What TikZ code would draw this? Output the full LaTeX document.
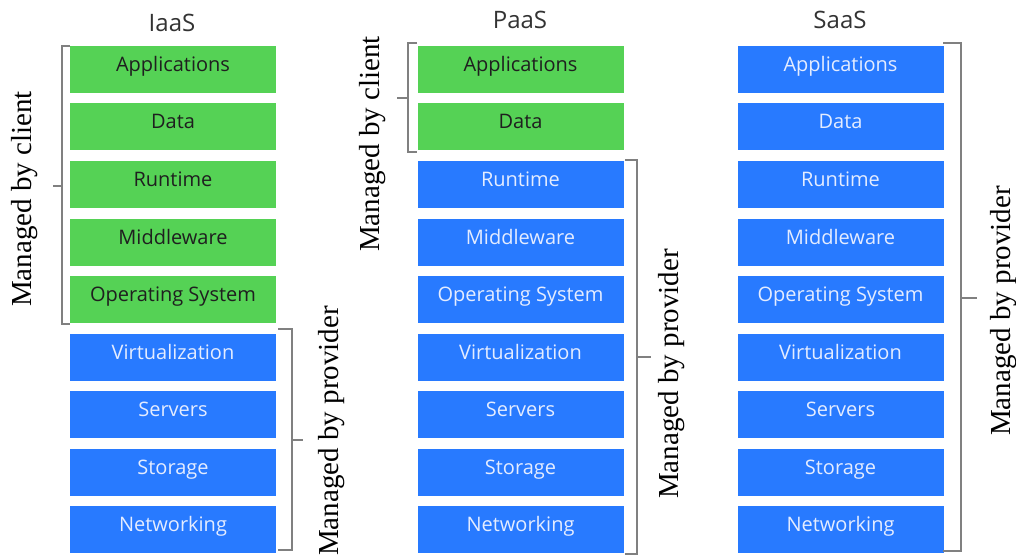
\documentclass[tikz,border=0pt]{standalone}
\usepackage{fontspec}
\setmainfont{Liberation Serif}
\newfontfamily\boxfont{Open Sans}
\definecolor{cgreen}{RGB}{85,210,85}
\definecolor{cblue}{RGB}{40,122,255}
\definecolor{brk}{RGB}{128,128,128}
\definecolor{ltxt}{RGB}{228,236,255}
\begin{document}
\begin{tikzpicture}[x=1pt,y=-1pt,
  layer/.style={minimum width=206pt, minimum height=47pt, inner sep=0pt,
    font=\boxfont\fontsize{20}{24}\selectfont, text height=10pt, text depth=6pt},
  client/.style={layer, fill=cgreen, text=black!88},
  prov/.style={layer, fill=cblue, text=ltxt},
  title/.style={font=\boxfont\fontsize{24}{28}\selectfont, text=black!80, anchor=base, inner sep=0pt},
  brace/.style={draw=brk, line width=2pt},
  mlabel/.style={rotate=90, font=\fontsize{29}{32}\selectfont, text=black, inner sep=0pt}]
\useasboundingbox[fill=white] (0,0) rectangle (1016,556);

% IaaS
\foreach \t [count=\i] in {Applications,Data,Runtime,Middleware,Operating System,Virtualization,Servers,Storage,Networking}{
  \pgfmathsetmacro\yy{69.5+57.5*(\i-1)}
  \ifnum\i<6 \tikzset{cur/.style={client}}\else\tikzset{cur/.style={prov}}\fi
  \node[cur] (i\i) at (173,\yy) {\t};
}
% PaaS
\foreach \t [count=\i] in {Applications,Data,Runtime,Middleware,Operating System,Virtualization,Servers,Storage,Networking}{
  \pgfmathsetmacro\yy{69.5+57.5*(\i-1)}
  \ifnum\i<3 \tikzset{cur/.style={client}}\else\tikzset{cur/.style={prov}}\fi
  \node[cur] (p\i) at (520.5,\yy) {\t};
}
% SaaS
\foreach \t [count=\i] in {Applications,Data,Runtime,Middleware,Operating System,Virtualization,Servers,Storage,Networking}{
  \pgfmathsetmacro\yy{69.5+57.5*(\i-1)}
  \node[prov] (s\i) at (840.5,\yy) {\t};
}

\node[title] (ti) at (172,31.5) {IaaS};
\node[title] (tp) at (520,28.5) {PaaS};
\node[title] (ts) at (840,28.5) {SaaS};

% IaaS brackets
\draw[brace] (70,46) -- (62,46) -- (62,324) -- (70,324);
\draw[brace] (62,186) -- (53,186);
\node[mlabel] (lic) at (25,199) {Managed by client};
\draw[brace] (278,329) -- (292,329) -- (292,550) -- (278,550);
\draw[brace] (292,440) -- (303,440);
\node[mlabel] (lip) at (332,431) {Managed by provider};

% PaaS brackets
\draw[brace] (417,43) -- (408,43) -- (408,152) -- (417,152);
\draw[brace] (408,98) -- (397,98);
\node[mlabel] (lpc) at (373,144) {Managed by client};
\draw[brace] (625,160) -- (637,160) -- (637,554) -- (625,554);
\draw[brace] (637,357) -- (651,357);
\node[mlabel] (lpp) at (672,374) {Managed by provider};

% SaaS bracket
\draw[brace] (943,43) -- (961,43) -- (961,551) -- (943,551);
\draw[brace] (961,298) -- (977,298);
\node[mlabel] (lsp) at (1004,311) {Managed by provider};
\end{tikzpicture}
\end{document}
